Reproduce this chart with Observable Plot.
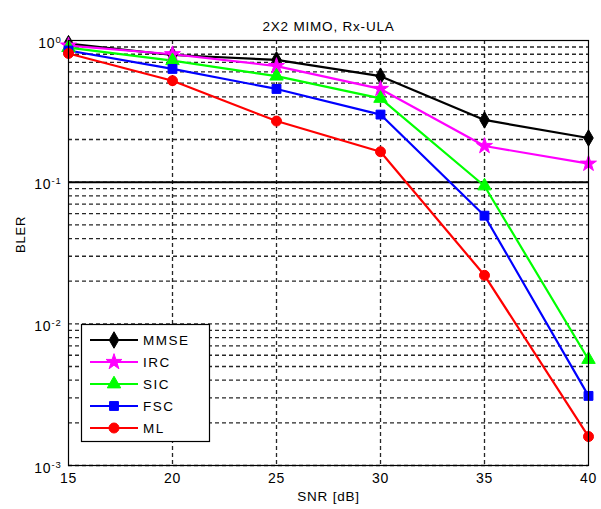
<!DOCTYPE html>
<html>
<head>
<meta charset="utf-8">
<script src="https://cdn.jsdelivr.net/npm/d3@7"></script>
<script src="https://cdn.jsdelivr.net/npm/@observablehq/plot@0.6"></script>
<style>
  html, body { margin: 0; padding: 0; background: white; }
  #chart { width: 601px; height: 509px; }
</style>
</head>
<body>
<div id="chart"></div>
<script>
// ---- data ----
const snr = [15, 20, 25, 30, 35, 40];
const mmse = [0.95, 0.79, 0.73, 0.56, 0.275, 0.205];
const irc  = [0.92, 0.80, 0.66, 0.455, 0.18, 0.135];
const sic  = [0.89, 0.72, 0.56, 0.39, 0.094, 0.0056];
const fsc  = [0.85, 0.63, 0.455, 0.30, 0.058, 0.0031];
const ml   = [0.81, 0.52, 0.27, 0.164, 0.022, 0.0016];
const seriesNames = ["MMSE", "IRC", "SIC", "FSC", "ML"];
const seriesValues = [mmse, irc, sic, fsc, ml];
const seriesColors = ["#000000", "#ff00ff", "#00ff00", "#0000ff", "#ff0000"];
const seriesSymbols = ["diamond", "star", "triangle", "square", "circle"];
const xTicks = [15, 20, 25, 30, 35, 40];
const yTicks = [1e-3, 1e-2, 1e-1, 1];
const targetBler = [0.1];
const titleText = "2X2 MIMO, Rx-ULA";
const xLabel = "SNR [dB]";
const yLabel = "BLER";

// ---- derived ----
const rows = [];
seriesNames.forEach((name, i) => {
  snr.forEach((s, j) => rows.push({series: name, snr: s, bler: seriesValues[i][j]}));
});
const minorGrid = [];
for (const d of [1e-3, 1e-2, 1e-1]) {
  for (let k = 1; k <= 9; k++) minorGrid.push(k * d);
}
const xGrid = xTicks.slice(1, -1);

const colorScale = {domain: seriesNames, range: seriesColors};
const symbolScale = {domain: seriesNames, range: seriesSymbols};

const FONT = "'Liberation Sans', Arial, Helvetica, sans-serif";

const chart = Plot.plot({
  width: 601,
  height: 509,
  marginLeft: 68,
  marginRight: 13,
  marginTop: 40,
  marginBottom: 44,
  style: {fontFamily: FONT, fontSize: "14px", background: "white", color: "black", letterSpacing: "0.8px"},
  x: {domain: [15, 40], ticks: xTicks, tickSize: 0, tickPadding: 8, label: null, tickFormat: d => String(d)},
  y: {type: "log", domain: [1e-3, 1], ticks: yTicks, tickSize: 0, tickPadding: 7, label: null,
      tickFormat: d => "10^" + Math.round(Math.log10(d))},
  color: colorScale,
  symbol: symbolScale,
  marks: [
    Plot.ruleY(minorGrid, {stroke: "#000", strokeOpacity: 0.85, strokeWidth: 1.3, strokeDasharray: "4,3"}),
    Plot.ruleX(xGrid, {stroke: "#000", strokeOpacity: 0.85, strokeWidth: 1.3, strokeDasharray: "4,3"}),
    Plot.ruleY(targetBler, {stroke: "black", strokeWidth: 2}),
    Plot.line(rows, {x: "snr", y: "bler", z: "series", stroke: "series", strokeWidth: 2.2}),
    Plot.dot(rows, {x: "snr", y: "bler", fill: "series", symbol: "series", r: 5, stroke: "series", strokeWidth: 1}),
    Plot.frame({stroke: "black", strokeWidth: 1.2}),
    Plot.text([titleText], {frameAnchor: "top", dy: -19, fontSize: 13.5, letterSpacing: 1.9}),
    Plot.text([xLabel], {frameAnchor: "bottom", dy: 35, fontSize: 13.5, letterSpacing: 1.3}),
    Plot.text([yLabel], {frameAnchor: "left", dx: -48, rotate: -90, fontSize: 13, letterSpacing: 0.5})
  ]
});

// superscript exponents on the y tick labels
d3.select(chart).selectAll('g[aria-label="y-axis tick label"] text').each(function() {
  const t = d3.select(this);
  const s = t.text();
  const parts = s.split("^");
  if (parts.length !== 2) return;
  t.text(null);
  t.attr("dy", "0.2em");
  t.append("tspan").text(parts[0]);
  t.append("tspan").attr("dy", "-0.55em").attr("font-size", "9.5px").text(parts[1]);
});

// in-plot legend (MATLAB style)
const svg = d3.select(chart);
const lg = svg.append("g").attr("aria-label", "legend").attr("text-anchor", "start");
const box = {x: 81, y: 324, w: 128, h: 117, y0: 340, step: 22};
lg.append("rect").attr("x", box.x + 0.5).attr("y", box.y + 0.5).attr("width", box.w).attr("height", box.h)
  .attr("fill", "white").attr("stroke", "black").attr("stroke-width", 1.2);
const symMap = {diamond: d3.symbolDiamond, star: d3.symbolStar, triangle: d3.symbolTriangle, square: d3.symbolSquare, circle: d3.symbolCircle};
seriesNames.forEach((name, i) => {
  const y = box.y0 + i * box.step;
  lg.append("line").attr("x1", 90).attr("x2", 138).attr("y1", y).attr("y2", y)
    .attr("stroke", seriesColors[i]).attr("stroke-width", 2.2);
  lg.append("path").attr("transform", `translate(114,${y})`)
    .attr("d", d3.symbol(symMap[seriesSymbols[i]], Math.PI * 25)())
    .attr("fill", seriesColors[i]).attr("stroke", seriesColors[i]).attr("stroke-width", 1);
  lg.append("text").attr("x", 143).attr("y", y).attr("dy", "0.36em").attr("text-anchor", "start")
    .attr("font-size", 13.5).attr("letter-spacing", "1.5px").attr("fill", "black").text(name);
});

document.getElementById("chart").appendChild(chart);
</script>
</body>
</html>
